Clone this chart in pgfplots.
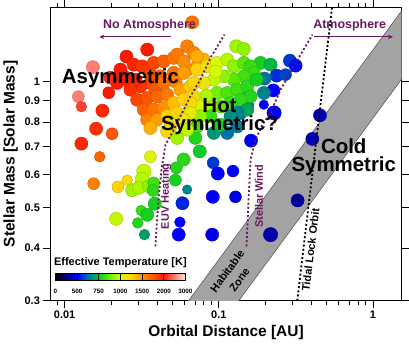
\documentclass[border=0pt]{standalone}
\usepackage{fontspec}
\setmainfont{Liberation Sans}
\usepackage{pgfplots}
\pgfplotsset{compat=1.18}
\usetikzlibrary{arrows.meta}

\definecolor{purp}{RGB}{105,25,95}
\definecolor{hzgray}{RGB}{163,163,163}

\begin{document}
\begin{tikzpicture}
\begin{axis}[
  xmode=log, ymode=log,
  scale only axis, width=351bp, height=293bp,
  xmin=0.00808, xmax=1.535, ymin=0.3, ymax=1.5,
  xtick={0.01,0.1,1}, xticklabels={0.01,0.1,1},
  minor xtick={0.009,0.02,0.03,0.04,0.05,0.06,0.07,0.08,0.09,0.2,0.3,0.4,0.5,0.6,0.7,0.8,0.9},
  ytick={0.3,0.4,0.5,0.6,0.7,0.8,0.9,1},
  yticklabels={0.3,0.4,0.5,0.6,0.7,0.8,0.9,1},
  tick align=outside, tick pos=both,
  xticklabel pos=left, yticklabel pos=left,
  major tick length=7bp, minor tick length=4bp,
  every tick/.style={black, line width=0.8pt},
  axis line style={line width=1.4pt},
  tick label style={font=\fontsize{11}{12}\selectfont\bfseries},
  xlabel={Orbital Distance [AU]},
  ylabel={Stellar Mass [Solar Mass]},
  label style={font=\fontsize{15.5}{17}\selectfont\bfseries},
  clip marker paths=true,
  colormap={temp}{rgb255(0cm)=(0,0,0) rgb255(2cm)=(0,0,255) rgb255(3cm)=(0,115,165)
    rgb255(4cm)=(0,200,40) rgb255(5cm)=(110,240,0) rgb255(6cm)=(215,250,0)
    rgb255(7cm)=(255,210,0) rgb255(8cm)=(255,145,0) rgb255(10cm)=(255,25,0)
    rgb255(12cm)=(255,230,230)},
  point meta min=0, point meta max=12,
  colorbar horizontal,
  colorbar style={
    at={(parent axis.south west)}, anchor=south west,
    xshift=5bp, yshift=29bp,
    scale only axis, width=130bp, height=7bp,
    xtick={0,2,4,6,8,10,12},
    xticklabels={0,500,750,1000,1500,2000,3000},
    xticklabel style={font=\fontsize{6.3}{7}\selectfont\bfseries, yshift=-5pt},
    major tick length=0pt,
    xmajorgrids, major grid style={black, line width=0.6pt},
    axis line style={line width=0.9pt},
    title={Effective Temperature [K]},
    title style={font=\fontsize{11}{12}\selectfont\bfseries, yshift=-4pt},
  },
]

% habitable zone band
\addplot[fill=hzgray, draw=black!70, line width=0.5pt]
  coordinates {(0.0596,0.29) (0.1262,0.29) (1.6,1.0328) (1.6,1.5036)} -- cycle;

% planets: x [AU], y [Msun], c = colour position, r = marker radius
\addplot[scatter, only marks, mark=*, point meta=explicit,
  visualization depends on={\thisrow{r} \as \rad},
  scatter/@pre marker code/.append style={/tikz/mark size={1.2*\rad}}]
  table[x=x, y=y, meta=c] {
x y c r
0.0672 1.382 8.5 5.5
0.03433 1.190 10 5.5
0.02519 1.145 10 5.5
0.01525 1.0805 11 5.5
0.01228 0.919 11 5
0.01284 0.870 10.4 4.5
0.01758 0.851 9.8 5.5
0.01932 0.939 10 5
0.0160 0.771 9.6 5.5
0.02033 0.750 9 5
0.01284 0.710 9.8 5.5
0.01689 0.661 8.8 4.5
0.01543 0.570 8.3 5
0.02217 0.560 7 5
0.02545 0.581 6.8 4.5
0.02159 0.470 5.8 5.5
0.0360 0.661 6.2 5
0.03262 0.610 5.8 6
0.03185 0.583 5.7 6
0.02742 0.550 5.5 5.5
0.03027 0.557 5.6 5.5
0.03516 0.562 5.3 5.5
0.03782 0.5725 4.6 5
0.03748 0.549 4.4 5
0.03839 0.5106 4.2 5.5
0.03138 0.492 4.5 4.5
0.03433 0.4806 4.2 5.5
0.02982 0.4596 4.3 4.5
0.03297 0.431 3.5 4.5
0.05309 0.622 4.3 5
0.0523 0.5814 4.2 5
0.05923 0.651 4.4 5.5
0.05367 0.733 5.5 5.5
0.06233 0.552 3.2 4
0.0581 0.512 2.3 5.5
0.05597 0.4615 2 4.5
0.05497 0.431 2 5.5
0.07054 0.733 4.3 5.5
0.07527 0.6806 4.1 5.5
0.09194 0.6393 2.5 5
0.09851 0.6026 2 5.5
0.1236 0.611 2 5
0.0914 0.5303 2 5.5
0.1283 0.5303 1.8 5
0.0906 0.431 1.8 5.5
0.2168 0.431 1.3 6
0.1619 0.722 2 5.5
0.2257 0.951 2 5.5
0.196 0.8795 2 4
0.2284 0.8406 2 6
0.4533 0.8296 1.4 5.5
0.4044 0.7288 1.4 5.5
0.3246 0.520 1.2 5.5
0.09278 0.7532 3.4 5.5
0.1134 0.7532 3 5.5
0.153 0.8747 3 5.5
0.1384 0.8406 3 5.5
0.153 0.938 3.5 5.5
0.1297 1.2117 5.5 5.5
0.1454 1.194 5.3 5.5
0.1866 1.106 4.2 5.5
0.2168 1.0955 3.8 5.5
0.2893 1.1198 2.5 5.5
0.315 1.0895 2.1 5.5
0.2372 1.0315 2.4 5.5
0.2713 1.037 2.6 5
0.1981 1.0147 3 5.5
0.1317 0.7808 3.1 5.5
0.02808 1.0954 9.8 5.5
0.03185 1.0853 9.6 5.5
0.03782 1.1058 9.3 5.5
0.04392 1.1155 8.8 5.5
0.05101 1.137 8.5 5.5
0.06233 1.2116 8.3 5.5
0.0688 1.1686 8.2 5.5
0.05367 1.1577 8.4 5.5
0.0799 1.126 7.5 5.5
0.07239 1.0853 7.8 5.5
0.06233 1.066 8.1 5.5
0.05101 1.0468 8.5 5.5
0.0418 1.0275 8.8 5.5
0.036 0.9909 9.2 5.5
0.03105 0.9725 9.6 5.5
0.02673 0.9816 10 5.5
0.02191 0.9909 10 5.5
0.02419 1.0275 10 5.5
0.02881 1.009 9.8 5.5
0.036 1.037 9.2 5.5
0.02673 0.955 9.7 5.5
0.0388 0.955 9 5.5
0.04392 0.9909 8.6 5.5
0.05233 0.9996 8.3 5.5
0.02955 0.904 9.3 5.5
0.03433 0.9124 9 5.5
0.0398 0.9205 8.7 5.5
0.04621 0.9291 8.4 5.5
0.05638 0.955 7.7 5.5
0.06548 0.9725 7.2 5.5
0.03262 0.856 8.8 5.5
0.03782 0.856 8.5 5.5
0.04392 0.8637 8 5.5
0.05101 0.8878 7.3 5.5
0.05923 0.904 7 5.5
0.0688 0.9205 6.8 5.5
0.03433 0.81 8.3 5.5
0.0398 0.81 7.8 5.5
0.036 0.7739 7.5 5.5
0.04621 0.8251 7 5.5
0.04855 0.7807 6.8 5.5
0.05367 0.8406 6.9 5.5
0.02302 1.066 10 5.5
0.01982 1.0202 10.2 5.5
0.04621 0.760 6.8 5.5
0.07239 1.147 7.6 5.5
0.05923 1.1155 8.1 5.5
0.05923 1.0468 7.8 5.5
0.07239 1.066 7 5.5
0.08407 1.0853 6.6 5.5
0.09763 1.1058 6 5.5
0.1134 1.126 5.7 5.5
0.1251 1.0853 5.3 5.5
0.1454 1.1058 4.8 5.5
0.1607 1.0853 4.5 5.5
0.1688 1.0468 4.5 5.5
0.1454 1.0275 4.6 5.5
0.1251 1.009 4.8 5.5
0.1078 1.0275 5.3 5.5
0.09278 1.009 5.8 5.5
0.0799 0.9909 6.5 5.5
0.0688 0.9909 6.9 5.5
0.09763 0.9378 5 5.5
0.1134 0.9378 4.7 5.5
0.1317 0.955 4.6 5.5
0.153 0.9725 4.4 5.5
0.1607 0.9205 4.3 5.5
0.1384 0.904 4.4 5.5
0.1191 0.8878 4.5 5.5
0.1026 0.8713 4.8 5.5
0.08831 0.8713 5.5 5.5
0.07605 0.8713 6.2 5.5
0.06548 0.8878 6.7 5.5
0.153 0.856 3.6 5.5
0.1317 0.8406 3.2 5.5
0.1191 0.8251 3.3 5.5
0.08831 0.8251 4.5 5.5
0.07605 0.8251 5.3 5.5
0.06548 0.8406 6.4 5.5
0.05923 0.81 6.5 5.5
0.07239 0.7807 4.6 5.5
0.06233 0.767 5.8 5.5
0.196 0.9378 3.2 5.5
0.1026 0.788 4.2 5.5
0.0832 0.924 5.6 5.5
0.1758 1.009 4.2 5.5
0.09518 1.0543 6 5.5
};

% EUV heating and stellar wind limits, tidal locking orbit
\addplot[purp, line width=1.8pt, dash pattern=on 2pt off 2.2pt]
  coordinates {(0.0388,0.404) (0.0406,0.522) (0.0425,0.616) (0.0451,0.706)
    (0.0511,0.767) (0.0578,0.841) (0.0655,0.921) (0.0760,1.009) (0.0883,1.137) (0.1089,1.292)};
\addplot[purp, line width=1.8pt, dash pattern=on 2pt off 2.2pt]
  coordinates {(0.1514,0.404) (0.156,0.522) (0.1607,0.651) (0.1731,0.726)
    (0.1923,0.789) (0.2168,0.842) (0.2517,0.955) (0.3245,1.126) (0.4055,1.292)};
\addplot[black, line width=1.8pt, dash pattern=on 2pt off 2.2pt]
  coordinates {(0.323,0.3) (0.543,1.5)};

% atmosphere arrows
\addplot[purp, line width=0.8pt, -{Stealth[length=5pt,width=4.5pt]}]
  coordinates {(0.0493,1.276) (0.0168,1.276)};
\addplot[purp, line width=0.8pt, -{Stealth[length=5pt,width=4.5pt]}]
  coordinates {(0.414,1.276) (1.349,1.276)};

\node[purp, font=\fontsize{12.5}{13}\selectfont\bfseries] at (axis cs:0.0355,1.3575) {No Atmosphere};
\node[purp, font=\fontsize{12.5}{13}\selectfont\bfseries] at (axis cs:0.706,1.3575) {Atmosphere};

\node[font=\fontsize{20.5}{18}\selectfont\bfseries] at (axis cs:0.02302,1.0146) {Asymmetric};
\node[font=\fontsize{20.5}{18}\selectfont\bfseries, align=center] at (axis cs:0.1011,0.8237) {Hot\\Symmetric?};
\node[font=\fontsize{20.5}{18}\selectfont\bfseries, align=center] at (axis cs:0.6468,0.6575) {Cold\\Symmetric};

\node[purp, rotate=90, font=\fontsize{11}{12}\selectfont\bfseries] at (axis cs:0.04553,0.532) {EUV Heating};
\node[purp, rotate=90, font=\fontsize{11}{12}\selectfont\bfseries] at (axis cs:0.182,0.532) {Stellar Wind};
\node[rotate=83, font=\fontsize{11}{12}\selectfont\bfseries] at (axis cs:0.3943,0.3966) {Tidal Lock Orbit};
\node[rotate=54, font=\fontsize{11}{15}\selectfont\bfseries, align=center] at (axis cs:0.1242,0.3445) {Habitable\\Zone};

\end{axis}
\end{tikzpicture}
\end{document}
